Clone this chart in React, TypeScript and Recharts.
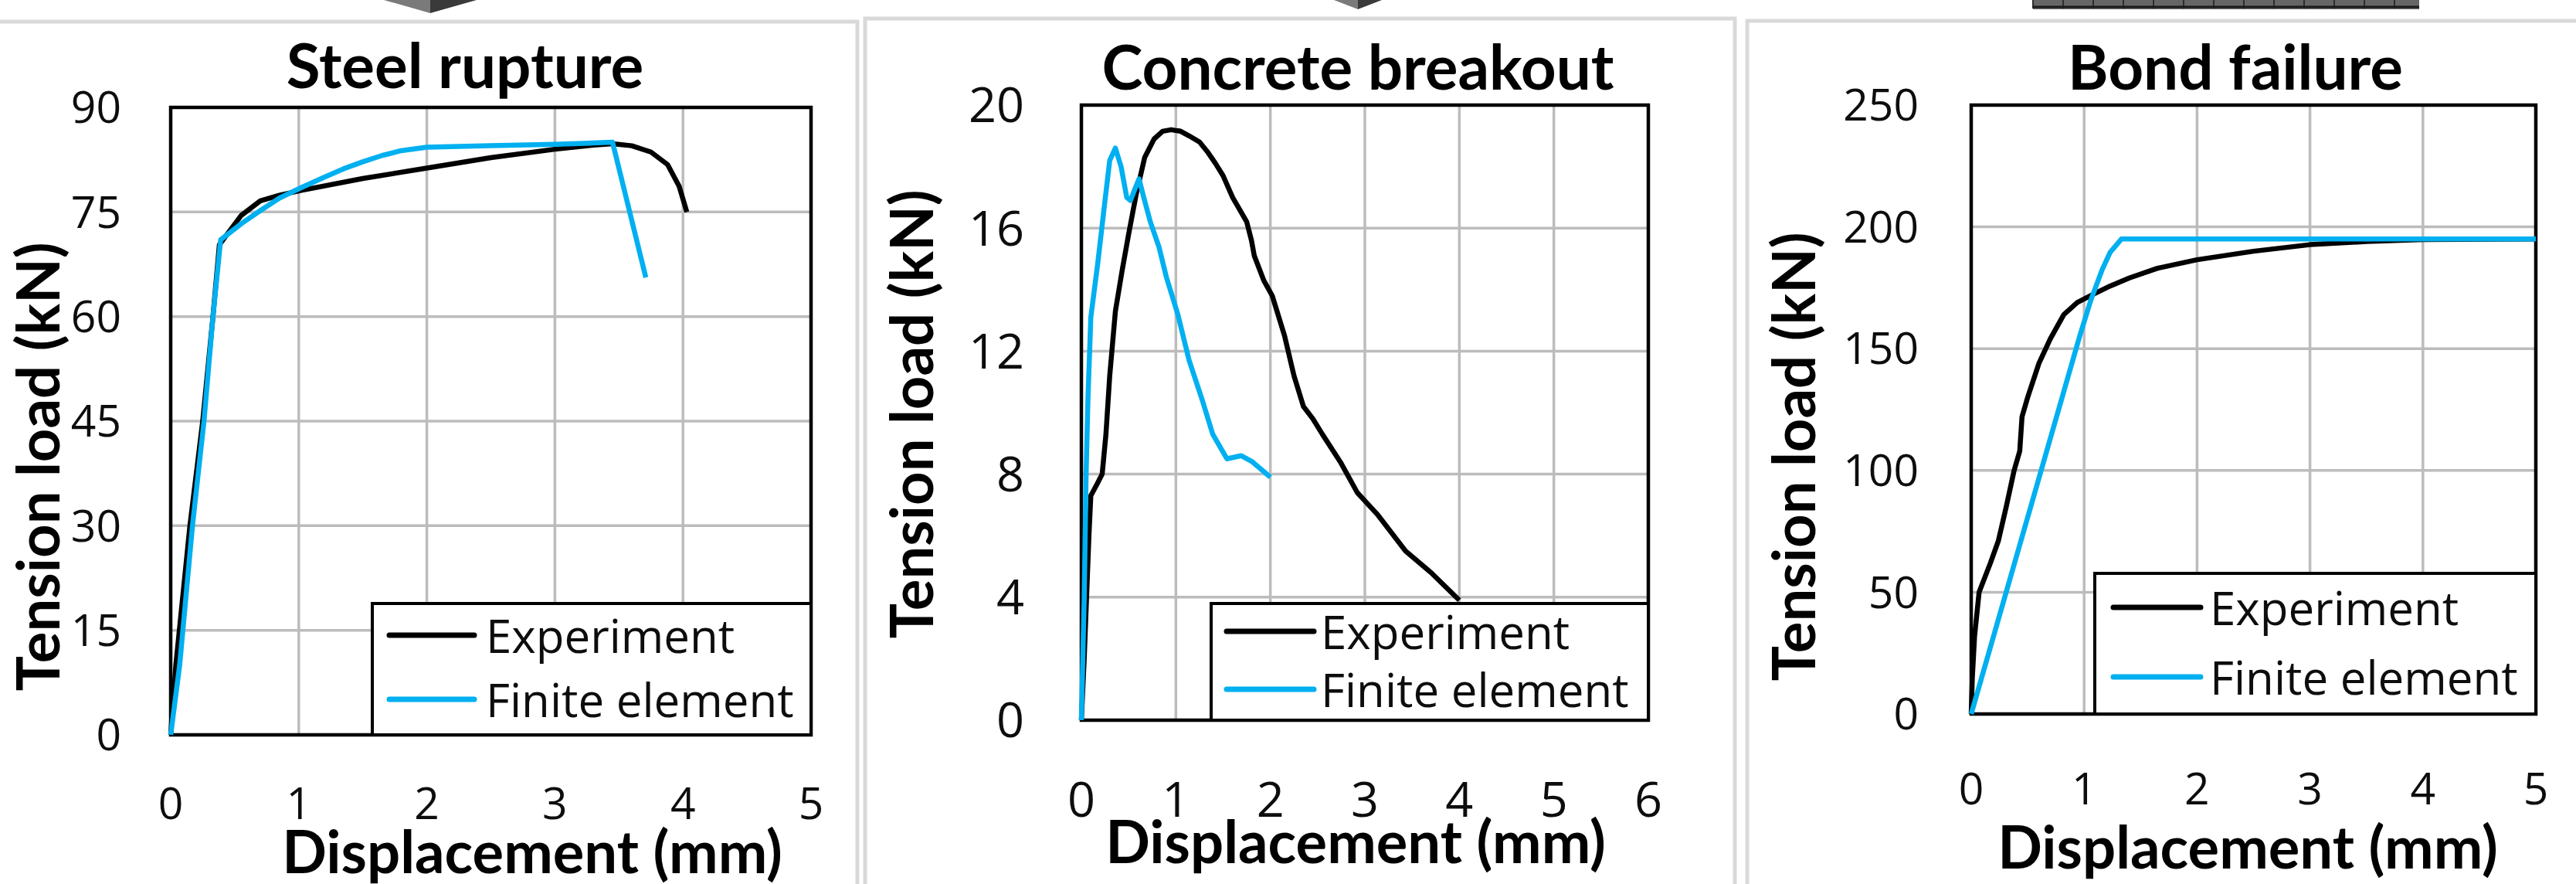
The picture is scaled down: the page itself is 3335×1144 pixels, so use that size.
import React from "react";
import {
  LineChart,
  Line,
  XAxis,
  YAxis,
  CartesianGrid,
  ReferenceArea,
  Legend,
} from "recharts";

// Three load-displacement panels: steel rupture, concrete breakout, bond failure.

const BOLD_FONT = "Lato, 'Open Sans', sans-serif";
const TEXT_FONT = "'Open Sans', 'Noto Sans', sans-serif";
const EXP_COLOR = "#000000";
const FE_COLOR = "#00b0f0";
const GRID_COLOR = "#bcbcbc";
const PANEL_EDGE = "#d9d9d9";

const SERIES_NAMES = ["Experiment", "Finite element"];

// [displacement mm, tension kN]
const STEEL_EXPERIMENT: [number, number][] = [
  [0, 0], [0.04, 10], [0.15, 30], [0.25, 45], [0.33, 60], [0.38, 70.3],
  [0.55, 74.5], [0.7, 76.6], [0.85, 77.4], [1.02, 78.1], [1.5, 79.8],
  [2.0, 81.3], [2.5, 82.8], [3.0, 84.0], [3.3, 84.6], [3.45, 84.8],
  [3.6, 84.5], [3.75, 83.6], [3.88, 81.8], [3.97, 78.7], [4.03, 75],
];
const STEEL_FE: [number, number][] = [
  [0, 0], [0.07, 10], [0.17, 30], [0.26, 45], [0.33, 60], [0.39, 71],
  [0.55, 73.3], [0.7, 75.2], [0.85, 77], [1.02, 78.5], [1.2, 80],
  [1.35, 81.2], [1.5, 82.2], [1.65, 83.1], [1.8, 83.8], [2.0, 84.3],
  [2.5, 84.5], [3.0, 84.7], [3.45, 85], [3.71, 65.6],
];

const CONCRETE_EXPERIMENT: [number, number][] = [
  [0, 0], [0.03, 2], [0.08, 6], [0.1, 7.3], [0.17, 7.7], [0.22, 8.0],
  [0.26, 9.3], [0.3, 11.2], [0.36, 13.3], [0.43, 14.6], [0.5, 15.8],
  [0.58, 17.1], [0.67, 18.3], [0.77, 18.9], [0.86, 19.15], [0.95, 19.2],
  [1.05, 19.15], [1.14, 19.0], [1.25, 18.8], [1.33, 18.5], [1.42, 18.1],
  [1.5, 17.7], [1.6, 17.0], [1.75, 16.2], [1.8, 15.6], [1.83, 15.1],
  [1.93, 14.3], [2.02, 13.8], [2.15, 12.5], [2.25, 11.2], [2.35, 10.2],
  [2.45, 9.8], [2.55, 9.3], [2.74, 8.4], [2.92, 7.4], [3.13, 6.7],
  [3.43, 5.5], [3.7, 4.8], [4.0, 3.9],
];
const CONCRETE_FE: [number, number][] = [
  [0, 0], [0.03, 4], [0.05, 8], [0.07, 10.5], [0.1, 13.1], [0.175, 14.9],
  [0.25, 16.9], [0.3, 18.2], [0.36, 18.6], [0.42, 18.0], [0.48, 17.0],
  [0.52, 16.9], [0.57, 17.3], [0.61, 17.6], [0.66, 17.0], [0.73, 16.2],
  [0.82, 15.4], [0.9, 14.4], [1.02, 13.2], [1.14, 11.7], [1.28, 10.4],
  [1.39, 9.3], [1.54, 8.5], [1.69, 8.6], [1.81, 8.4], [2.0, 7.9],
];

const BOND_EXPERIMENT: [number, number][] = [
  [0, 0], [0.01, 15], [0.03, 32], [0.07, 50], [0.17, 62], [0.24, 71],
  [0.31, 85], [0.38, 100], [0.43, 108], [0.45, 122], [0.5, 130],
  [0.6, 144], [0.7, 154], [0.82, 164], [0.94, 169], [1.08, 172.3],
  [1.23, 175.7], [1.4, 179], [1.65, 183], [2.0, 186.5], [2.5, 190],
  [3.0, 192.7], [3.5, 194], [4.0, 194.8], [5.0, 195],
];
const BOND_FE: [number, number][] = [
  [0, 0], [0.96, 155], [1.06, 170], [1.16, 182.5], [1.23, 189.5],
  [1.33, 195], [5.0, 195],
];

const STEEL_X_TICKS = [0, 1, 2, 3, 4, 5];
const STEEL_Y_TICKS = [0, 15, 30, 45, 60, 75, 90];
const CONCRETE_X_TICKS = [0, 1, 2, 3, 4, 5, 6];
const CONCRETE_Y_TICKS = [0, 4, 8, 12, 16, 20];
const BOND_X_TICKS = [0, 1, 2, 3, 4, 5];
const BOND_Y_TICKS = [0, 50, 100, 150, 200, 250];

const toPoints = (pairs: [number, number][]) =>
  pairs.map(([x, y]) => ({ x, y }));

const H = 1144;

interface PanelSpec {
  title: string;
  left: number;
  width: number;
  plot: { left: number; right: number; top: number; bottom: number };
  xTicks: number[];
  yTicks: number[];
  exp: [number, number][];
  fe: [number, number][];
  tickFont: number;
  yTickGap: number;
  xTickGap: number;
  titlePos: { x: number; y: number };
  yTitle: { x: number; y: number };
  xTitle: { x: number; y: number };
  legend: {
    x: number; y: number; w: number; h: number;
    rows: number[]; line: [number, number]; text: number;
  };
}

const PANELS: PanelSpec[] = [
  {
    title: "Steel rupture",
    left: 0,
    width: 1112,
    plot: { left: 221, right: 1050, top: 139, bottom: 951 },
    xTicks: STEEL_X_TICKS,
    yTicks: STEEL_Y_TICKS,
    exp: STEEL_EXPERIMENT,
    fe: STEEL_FE,
    tickFont: 57,
    yTickGap: 64,
    xTickGap: 69,
    titlePos: { x: 602, y: 114 },
    yTitle: { x: 47, y: 604 },
    xTitle: { x: 689, y: 1130 },
    legend: { x: 480, y: 779, w: 572, h: 174, rows: [43, 126], line: [24, 134], text: 149 },
  },
  {
    title: "Concrete breakout",
    left: 1112,
    width: 1140,
    plot: { left: 288, right: 1022, top: 136, bottom: 932 },
    xTicks: CONCRETE_X_TICKS,
    yTicks: CONCRETE_Y_TICKS,
    exp: CONCRETE_EXPERIMENT,
    fe: CONCRETE_FE,
    tickFont: 63,
    yTickGap: 74,
    xTickGap: 80,
    titlePos: { x: 646, y: 116 },
    yTitle: { x: 66, y: 536 },
    xTitle: { x: 643, y: 1117 },
    legend: { x: 454, y: 779, w: 570, h: 155, rows: [38, 113], line: [22, 135], text: 144 },
  },
  {
    title: "Bond failure",
    left: 2252,
    width: 1083,
    plot: { left: 300, right: 1031, top: 136, bottom: 924 },
    xTicks: BOND_X_TICKS,
    yTicks: BOND_Y_TICKS,
    exp: BOND_EXPERIMENT,
    fe: BOND_FE,
    tickFont: 57,
    yTickGap: 68,
    xTickGap: 77,
    titlePos: { x: 642, y: 116 },
    yTitle: { x: 68, y: 591 },
    xTitle: { x: 658, y: 1124 },
    legend: { x: 458, y: 740, w: 575, h: 186, rows: [46, 136], line: [26, 139], text: 151 },
  },
];

function Panel({ spec }: { spec: PanelSpec }) {
  const { plot, legend } = spec;
  const xMax = spec.xTicks[spec.xTicks.length - 1];
  const yMax = spec.yTicks[spec.yTicks.length - 1];
  const tickStyle = { fontSize: spec.tickFont, fill: "#0d0d0d", fontFamily: TEXT_FONT };

  const renderLegend = (props: any) => {
    const payload = (props.payload || []) as any[];
    const items = SERIES_NAMES.map(
      (n) => payload.find((p) => p.value === n) || { value: n, color: "#000" }
    );
    return (
      <div
        style={{
          boxSizing: "border-box",
          width: legend.w,
          height: legend.h,
          border: "4px solid #000",
          background: "#fff",
        }}
      >
        <svg
          width={legend.w}
          height={legend.h}
          style={{ position: "absolute", left: 0, top: 0 }}
        >
          {items.map((it, i) => (
            <g key={it.value}>
              <line
                x1={legend.line[0]}
                x2={legend.line[1]}
                y1={legend.rows[i]}
                y2={legend.rows[i]}
                stroke={it.color}
                strokeWidth={7}
                strokeLinecap="round"
              />
              <text
                x={legend.text}
                y={legend.rows[i]}
                dominantBaseline="central"
                fontFamily={TEXT_FONT}
                fontSize={60}
                fill="#0d0d0d"
              >
                {it.value}
              </text>
            </g>
          ))}
        </svg>
      </div>
    );
  };

  return (
    <div style={{ position: "absolute", left: spec.left, top: 0, width: spec.width, height: H }}>
      <svg width={spec.width} height={200} style={{ position: "absolute", left: 0, top: 0 }}>
        <text
          x={spec.titlePos.x}
          y={spec.titlePos.y}
          textAnchor="middle"
          fontFamily={BOLD_FONT}
          fontWeight={700}
          fontSize={80}
          fill="#000"
        >
          {spec.title}
        </text>
      </svg>
      <LineChart
        width={spec.width}
        height={H}
        margin={{ top: plot.top, right: spec.width - plot.right, bottom: 0, left: 0 }}
      >
        <CartesianGrid stroke={GRID_COLOR} strokeWidth={3.5} />
        <XAxis
          type="number"
          dataKey="x"
          domain={[0, xMax]}
          ticks={spec.xTicks}
          interval={0}
          height={H - plot.bottom}
          axisLine={false}
          tickLine={false}
          tickSize={0}
          tickMargin={spec.xTickGap}
          tick={tickStyle}
          label={() => (
            <text
              x={spec.xTitle.x}
              y={spec.xTitle.y}
              textAnchor="middle"
              fontFamily={BOLD_FONT}
              fontWeight={700}
              fontSize={76}
              fill="#000"
            >
              Displacement (mm)
            </text>
          )}
        />
        <YAxis
          type="number"
          domain={[0, yMax]}
          ticks={spec.yTicks}
          interval={0}
          width={plot.left}
          axisLine={false}
          tickLine={false}
          tickSize={0}
          tickMargin={spec.yTickGap}
          tick={tickStyle}
          label={() => (
            <text
              x={spec.yTitle.x}
              y={spec.yTitle.y}
              transform={`rotate(-90 ${spec.yTitle.x} ${spec.yTitle.y})`}
              textAnchor="middle"
              dominantBaseline="central"
              fontFamily={BOLD_FONT}
              fontWeight={700}
              fontSize={76}
              fill="#000"
            >
              Tension load (kN)
            </text>
          )}
        />
        <ReferenceArea
          x1={0}
          x2={xMax}
          y1={0}
          y2={yMax}
          fill="none"
          stroke="#000"
          strokeWidth={4.5}
        />
        <Line
          data={toPoints(spec.exp)}
          dataKey="y"
          name={SERIES_NAMES[0]}
          type="linear"
          stroke={EXP_COLOR}
          strokeWidth={6.5}
          strokeLinejoin="round"
          dot={false}
          activeDot={false}
          isAnimationActive={false}
        />
        <Line
          data={toPoints(spec.fe)}
          dataKey="y"
          name={SERIES_NAMES[1]}
          type="linear"
          stroke={FE_COLOR}
          strokeWidth={6.5}
          strokeLinejoin="round"
          dot={false}
          activeDot={false}
          isAnimationActive={false}
        />
        <Legend
          layout="horizontal"
          verticalAlign="middle"
          align="center"
          wrapperStyle={{
            left: legend.x,
            top: legend.y,
            width: legend.w,
            height: legend.h,
          }}
          content={renderLegend}
        />
      </LineChart>
    </div>
  );
}

// bits of the figure above the charts that were cropped off
function TopStrip() {
  const cells = [];
  for (let i = 0; i <= 12; i++) {
    cells.push(
      <line key={i} x1={2632 + i * 39} x2={2632 + i * 39} y1={0} y2={11} stroke="#2e2e2e" strokeWidth={2} />
    );
  }
  return (
    <svg width={3335} height={H} style={{ position: "absolute", left: 0, top: 0 }}>
      <polygon points="497,0 557,0 557,17" fill="#7a7a7a" />
      <polygon points="557,0 617,0 557,17" fill="#3a3a3a" />
      <polygon points="1727,0 1758,0 1758,12" fill="#7a7a7a" />
      <polygon points="1758,0 1789,0 1758,12" fill="#3a3a3a" />
      <rect x={2632} y={0} width={500} height={12} fill="#666" />
      {cells}
      <line x1={2632} x2={3132} y1={9} y2={9} stroke="#1a1a1a" strokeWidth={3} />
      {/* panel frames */}
      <polyline points="0,28 1110,28 1110,1144" fill="none" stroke={PANEL_EDGE} strokeWidth={5} />
      <polyline points="1120,1144 1120,24 2246,24 2246,1144" fill="none" stroke={PANEL_EDGE} strokeWidth={5} />
      <polyline points="2262,1144 2262,27 3335,27" fill="none" stroke={PANEL_EDGE} strokeWidth={5} />
    </svg>
  );
}

export default function App() {
  return (
    <div
      style={{
        position: "absolute",
        left: 0,
        top: 0,
        width: 3335,
        height: H,
        background: "#fff",
        overflow: "hidden",
        fontFamily: TEXT_FONT,
      }}
    >
      <TopStrip />
      {PANELS.map((p) => (
        <Panel key={p.title} spec={p} />
      ))}
    </div>
  );
}
